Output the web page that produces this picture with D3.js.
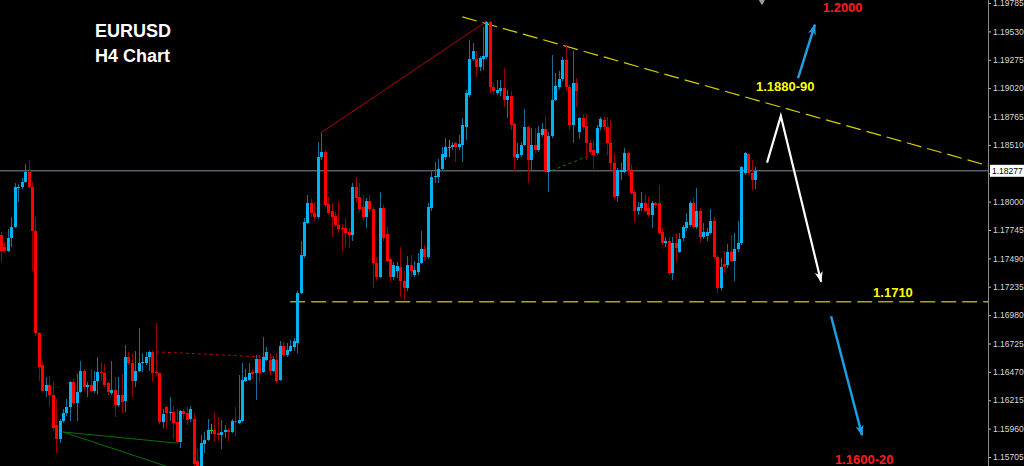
<!DOCTYPE html>
<html>
<head>
<meta charset="utf-8">
<script src="https://cdn.jsdelivr.net/npm/d3@7"></script>
<style>
  html, body { margin: 0; padding: 0; background: #000; }
  svg { display: block; }
</style>
</head>
<body>
<svg id="chart" width="1024" height="466"></svg>
<script>
// EURUSD H4 candles, [open, high, low, close], oldest first
const ohlc = [
  [1.1770,1.1773,1.1746,1.1756],[1.1759,1.1764,1.1754,1.1756],[1.1756,1.1775,1.1755,1.1767],[1.1767,1.1786,1.1759,1.1777],[1.1777,1.1817,1.1776,1.1813],
  [1.1812,1.1816,1.1800,1.1813],[1.1813,1.1821,1.1811,1.1818],[1.1818,1.1834,1.1817,1.1827],[1.1827,1.1837,1.1812,1.1813],[1.1813,1.1818,1.1738,1.1774],
  [1.1774,1.1786,1.1679,1.1682],[1.1682,1.1683,1.1639,1.1651],[1.1653,1.1657,1.1629,1.1630],[1.1630,1.1642,1.1624,1.1635],[1.1635,1.1643,1.1615,1.1626],
  [1.1626,1.1639,1.1594,1.1597],[1.1599,1.1623,1.1574,1.1587],[1.1587,1.1605,1.1583,1.1603],[1.1603,1.1614,1.1601,1.1610],[1.1610,1.1623,1.1607,1.1615],
  [1.1615,1.1639,1.1603,1.1638],[1.1638,1.1641,1.1617,1.1619],[1.1619,1.1645,1.1603,1.1629],[1.1629,1.1657,1.1628,1.1648],[1.1648,1.1650,1.1630,1.1633],
  [1.1633,1.1638,1.1624,1.1635],[1.1635,1.1650,1.1629,1.1630],[1.1630,1.1648,1.1628,1.1639],[1.1639,1.1660,1.1626,1.1647],[1.1647,1.1656,1.1639,1.1646],
  [1.1646,1.1654,1.1633,1.1635],[1.1637,1.1639,1.1626,1.1629],[1.1628,1.1657,1.1626,1.1631],[1.1631,1.1642,1.1606,1.1617],[1.1617,1.1642,1.1615,1.1626],
  [1.1626,1.1645,1.1610,1.1620],[1.1621,1.1671,1.1611,1.1660],[1.1660,1.1665,1.1653,1.1655],[1.1655,1.1663,1.1624,1.1639],[1.1639,1.1666,1.1633,1.1648],
  [1.1648,1.1686,1.1647,1.1655],[1.1655,1.1664,1.1647,1.1656],[1.1655,1.1665,1.1653,1.1660],[1.1660,1.1666,1.1648,1.1665],[1.1665,1.1667,1.1638,1.1646],
  [1.1647,1.1691,1.1643,1.1646],[1.1646,1.1647,1.1600,1.1602],[1.1602,1.1614,1.1597,1.1609],[1.1615,1.1616,1.1596,1.1610],[1.1610,1.1624,1.1603,1.1611],
  [1.1611,1.1616,1.1587,1.1601],[1.1602,1.1614,1.1582,1.1584],[1.1584,1.1613,1.1579,1.1612],[1.1612,1.1614,1.1605,1.1609],[1.1610,1.1615,1.1599,1.1604],
  [1.1605,1.1616,1.1602,1.1614],[1.1605,1.1610,1.1558,1.1564],[1.1567,1.1578,1.1557,1.1562],[1.1562,1.1590,1.1560,1.1583],[1.1582,1.1593,1.1574,1.1586],
  [1.1586,1.1605,1.1585,1.1595],[1.1595,1.1600,1.1591,1.1595],[1.1595,1.1611,1.1584,1.1591],[1.1592,1.1606,1.1585,1.1590],[1.1590,1.1604,1.1578,1.1593],
  [1.1593,1.1599,1.1588,1.1595],[1.1595,1.1597,1.1585,1.1593],[1.1593,1.1605,1.1592,1.1603],[1.1603,1.1615,1.1589,1.1602],[1.1601,1.1644,1.1600,1.1604],
  [1.1603,1.1655,1.1602,1.1640],[1.1639,1.1650,1.1638,1.1642],[1.1640,1.1655,1.1639,1.1646],[1.1647,1.1650,1.1641,1.1645],[1.1646,1.1662,1.1622,1.1659],
  [1.1659,1.1662,1.1638,1.1646],[1.1647,1.1678,1.1646,1.1660],[1.1658,1.1669,1.1657,1.1665],[1.1658,1.1664,1.1644,1.1648],[1.1648,1.1661,1.1647,1.1659],
  [1.1658,1.1664,1.1637,1.1639],[1.1640,1.1675,1.1639,1.1670],[1.1670,1.1674,1.1660,1.1662],[1.1662,1.1673,1.1660,1.1667],[1.1666,1.1676,1.1665,1.1670],
  [1.1669,1.1677,1.1666,1.1675],[1.1673,1.1720,1.1664,1.1718],[1.1718,1.1765,1.1717,1.1752],[1.1751,1.1785,1.1749,1.1782],[1.1781,1.1806,1.1780,1.1799],
  [1.1799,1.1802,1.1786,1.1790],[1.1790,1.1800,1.1783,1.1786],[1.1786,1.1854,1.1784,1.1840],[1.1840,1.1862,1.1837,1.1845],[1.1845,1.1846,1.1795,1.1797],
  [1.1798,1.1804,1.1788,1.1790],[1.1792,1.1799,1.1768,1.1786],[1.1787,1.1791,1.1777,1.1779],[1.1779,1.1800,1.1772,1.1775],[1.1776,1.1780,1.1755,1.1775],
  [1.1776,1.1785,1.1759,1.1772],[1.1773,1.1776,1.1758,1.1770],[1.1770,1.1817,1.1765,1.1813],[1.1813,1.1822,1.1800,1.1803],[1.1804,1.1817,1.1791,1.1793],
  [1.1795,1.1806,1.1783,1.1786],[1.1786,1.1803,1.1776,1.1801],[1.1801,1.1806,1.1791,1.1793],[1.1793,1.1795,1.1722,1.1745],[1.1745,1.1750,1.1730,1.1732],
  [1.1732,1.1809,1.1731,1.1794],[1.1794,1.1797,1.1765,1.1767],[1.1771,1.1777,1.1746,1.1747],[1.1748,1.1750,1.1729,1.1732],[1.1732,1.1746,1.1730,1.1743],
  [1.1738,1.1746,1.1731,1.1742],[1.1741,1.1759,1.1714,1.1729],[1.1729,1.1738,1.1712,1.1722],[1.1722,1.1751,1.1720,1.1743],[1.1743,1.1752,1.1732,1.1738],
  [1.1734,1.1747,1.1732,1.1739],[1.1737,1.1754,1.1734,1.1745],[1.1745,1.1774,1.1744,1.1757],[1.1757,1.1761,1.1747,1.1750],[1.1750,1.1799,1.1748,1.1795],
  [1.1794,1.1828,1.1792,1.1822],[1.1822,1.1836,1.1817,1.1823],[1.1822,1.1838,1.1817,1.1829],[1.1829,1.1849,1.1828,1.1843],[1.1840,1.1857,1.1837,1.1849],
  [1.1849,1.1855,1.1840,1.1849],[1.1849,1.1854,1.1846,1.1851],[1.1853,1.1854,1.1836,1.1849],[1.1849,1.1860,1.1846,1.1852],[1.1851,1.1875,1.1836,1.1869],
  [1.1867,1.1900,1.1855,1.1898],[1.1896,1.1945,1.1894,1.1928],[1.1928,1.1943,1.1926,1.1935],[1.1928,1.1935,1.1912,1.1921],[1.1921,1.1931,1.1917,1.1929],
  [1.1928,1.1957,1.1918,1.1931],[1.1930,1.1962,1.1928,1.1961],[1.1961,1.1962,1.1898,1.1903],[1.1903,1.1907,1.1896,1.1899],[1.1898,1.1909,1.1896,1.1900],
  [1.1899,1.1909,1.1895,1.1902],[1.1902,1.1920,1.1885,1.1891],[1.1891,1.1900,1.1875,1.1895],[1.1895,1.1899,1.1864,1.1869],[1.1870,1.1871,1.1827,1.1840],
  [1.1839,1.1853,1.1837,1.1843],[1.1842,1.1854,1.1840,1.1851],[1.1851,1.1883,1.1850,1.1867],[1.1867,1.1868,1.1817,1.1837],[1.1837,1.1866,1.1828,1.1851],
  [1.1851,1.1866,1.1844,1.1846],[1.1846,1.1868,1.1845,1.1862],[1.1860,1.1871,1.1858,1.1865],[1.1865,1.1877,1.1826,1.1827],[1.1827,1.1863,1.1809,1.1859],
  [1.1859,1.1932,1.1857,1.1891],[1.1891,1.1916,1.1890,1.1904],[1.1903,1.1917,1.1901,1.1910],[1.1910,1.1930,1.1908,1.1927],[1.1927,1.1941,1.1900,1.1903],
  [1.1903,1.1905,1.1864,1.1869],[1.1869,1.1935,1.1853,1.1907],[1.1907,1.1911,1.1885,1.1899],[1.1863,1.1876,1.1856,1.1875],[1.1875,1.1879,1.1864,1.1867],
  [1.1868,1.1879,1.1837,1.1853],[1.1853,1.1855,1.1843,1.1845],[1.1846,1.1855,1.1829,1.1842],[1.1844,1.1869,1.1842,1.1866],[1.1867,1.1876,1.1864,1.1874],
  [1.1873,1.1876,1.1864,1.1867],[1.1867,1.1876,1.1842,1.1853],[1.1853,1.1873,1.1828,1.1835],[1.1835,1.1844,1.1802,1.1804],[1.1805,1.1830,1.1800,1.1828],
  [1.1827,1.1835,1.1819,1.1828],[1.1827,1.1848,1.1826,1.1844],[1.1844,1.1845,1.1824,1.1828],[1.1828,1.1833,1.1806,1.1808],[1.1809,1.1810,1.1781,1.1792],
  [1.1792,1.1800,1.1788,1.1795],[1.1794,1.1809,1.1792,1.1799],[1.1799,1.1807,1.1791,1.1792],[1.1794,1.1804,1.1786,1.1788],[1.1788,1.1801,1.1776,1.1799],
  [1.1799,1.1800,1.1794,1.1797],[1.1799,1.1815,1.1771,1.1772],[1.1773,1.1777,1.1761,1.1763],[1.1763,1.1768,1.1759,1.1765],[1.1765,1.1768,1.1734,1.1736],
  [1.1736,1.1768,1.1730,1.1763],[1.1763,1.1772,1.1746,1.1758],[1.1755,1.1772,1.1754,1.1766],[1.1767,1.1779,1.1765,1.1777],[1.1776,1.1790,1.1774,1.1782],
  [1.1779,1.1801,1.1777,1.1799],[1.1799,1.1803,1.1775,1.1777],[1.1777,1.1812,1.1775,1.1792],[1.1792,1.1794,1.1764,1.1768],[1.1768,1.1781,1.1766,1.1773],
  [1.1769,1.1776,1.1765,1.1773],[1.1772,1.1793,1.1771,1.1783],[1.1783,1.1786,1.1748,1.1750],[1.1750,1.1752,1.1718,1.1722],[1.1722,1.1749,1.1720,1.1741],
  [1.1744,1.1756,1.1736,1.1741],[1.1743,1.1762,1.1740,1.1755],[1.1755,1.1770,1.1746,1.1747],[1.1747,1.1772,1.1729,1.1757],[1.1757,1.1783,1.1755,1.1763],
  [1.1763,1.1832,1.1761,1.1831],[1.1826,1.1845,1.1824,1.1844],[1.1843,1.1844,1.1824,1.1826],[1.1826,1.1837,1.1810,1.1819],[1.1819,1.1831,1.1811,1.18277]
];

const priceTicks = [1.19785,1.19530,1.19275,1.19020,1.18765,1.18510,1.18255,1.18000,1.17745,
                    1.17490,1.17235,1.16980,1.16725,1.16470,1.16215,1.15960,1.15705];
const lastPrice = 1.18277;

// drawn objects, as [bar index, price]
const supportLevel = [[84, 1.1710], [300, 1.1710]];
const resistanceLine = [[134, 1.1966], [287, 1.1832]];
const peakLine = [[93, 1.1862], [141, 1.1962]];
const redDotted = [[45, 1.1665], [79, 1.1660]];
const greenLines = [
  [[18, 1.1593], [51, 1.1583]],
  [[18, 1.1593], [55, 1.1555]]
];
const greenDotted = [[160, 1.1828], [173, 1.1844]];
const whitePath = [[222.5, 1.1835], [226.5, 1.1877], [238.2, 1.1728]];
const blueUp = [[231.5, 1.1911], [236.4, 1.1959]];
const blueDown = [[241.1, 1.1697], [250.1, 1.1590]];
const noteText = ["1.2000", "1.1880-90", "1.1710", "1.1600-20"];
const noteAt = [[238.7, 1.1970], [219.3, 1.1899], [253.3, 1.1714], [242.2, 1.1564]];
const noteColor = ["#ff1a1a", "#ffff00", "#ffff00", "#ff1a1a"];

const W = 1024, H = 466, axisX = 988;
const svg = d3.select("#chart");

svg.append("rect").attr("width", W).attr("height", H).attr("fill", "#000");

const x = d3.scaleLinear().domain([0, ohlc.length - 1]).range([1, 755]);
const y = d3.scaleLinear()
  .domain([priceTicks[priceTicks.length - 1], priceTicks[0]])
  .range([457, 3]);

svg.append("clipPath").attr("id", "plot")
  .append("rect").attr("width", axisX).attr("height", H);

const defs = svg.append("defs");
function arrowMarker(id, color) {
  defs.append("marker")
    .attr("id", id)
    .attr("viewBox", "0 -5 12 10")
    .attr("refX", 10).attr("refY", 0)
    .attr("markerUnits", "userSpaceOnUse")
    .attr("markerWidth", 12).attr("markerHeight", 10)
    .attr("orient", "auto")
    .append("path")
    .attr("d", "M0,-4L11,0L0,4L3,0Z")
    .attr("fill", color);
}
arrowMarker("headBlue", "#1e9ee0");
arrowMarker("headWhite", "#ffffff");

const plot = svg.append("g").attr("clip-path", "url(#plot)");
const line = d3.line().x(d => x(d[0])).y(d => y(d[1]));

// current price line
plot.append("line")
  .attr("x1", 0).attr("x2", axisX)
  .attr("y1", y(lastPrice)).attr("y2", y(lastPrice))
  .attr("stroke", "#565e67").attr("stroke-width", 1.5);

// objects behind the candles
plot.append("path").attr("d", line(supportLevel))
  .attr("fill", "none").attr("stroke", "#a8a51c").attr("stroke-width", 1.5)
  .attr("stroke-dasharray", "15,6");
plot.append("path").attr("d", line(resistanceLine))
  .attr("fill", "none").attr("stroke", "#d8d000").attr("stroke-width", 1.2)
  .attr("stroke-dasharray", "15,6");
plot.append("path").attr("d", line(peakLine))
  .attr("fill", "none").attr("stroke", "#b30000").attr("stroke-width", 1);
plot.append("path").attr("d", line(redDotted))
  .attr("fill", "none").attr("stroke", "#c00000").attr("stroke-width", 1)
  .attr("stroke-dasharray", "3,3");
greenLines.forEach(g => {
  plot.append("path").attr("d", line(g))
    .attr("fill", "none").attr("stroke", "#0b6e0b").attr("stroke-width", 1);
});
plot.append("path").attr("d", line(greenDotted))
  .attr("fill", "none").attr("stroke", "#0b7a0b").attr("stroke-width", 1)
  .attr("stroke-dasharray", "3,3");

// candles
const candles = plot.append("g").attr("shape-rendering", "crispEdges");
ohlc.forEach((d, i) => {
  const [o, h, l, c] = d;
  const cx = Math.round(x(i));
  const up = c > o, doji = c === o;
  const wick = doji ? "#00d000" : up ? "#1b6f96" : "#9a0000";
  const body = doji ? "#00e000" : up ? "#00b2f0" : "#ff0000";
  candles.append("rect")
    .attr("x", cx).attr("width", 1)
    .attr("y", y(h)).attr("height", Math.max(1, y(l) - y(h)))
    .attr("fill", wick);
  const top = y(Math.max(o, c)), bot = y(Math.min(o, c));
  candles.append("rect")
    .attr("x", cx - 1).attr("width", 3)
    .attr("y", top).attr("height", Math.max(1, bot - top))
    .attr("fill", body);
});

// arrows
plot.append("path").attr("d", line(whitePath))
  .attr("fill", "none").attr("stroke", "#ffffff").attr("stroke-width", 2.2)
  .attr("stroke-linejoin", "miter").attr("marker-end", "url(#headWhite)");
[blueUp, blueDown].forEach(a => {
  plot.append("path").attr("d", line(a))
    .attr("fill", "none").attr("stroke", "#1e9ee0").attr("stroke-width", 2.5)
    .attr("marker-end", "url(#headBlue)");
});

// small object marker at the top edge
plot.append("path")
  .attr("d", d3.symbol(d3.symbolDiamond, 30)())
  .attr("transform", `translate(${x(221)},${y(1.1981)})`)
  .attr("fill", "#9a9a9a");

// price notes
noteText.forEach((t, i) => {
  plot.append("text")
    .attr("x", x(noteAt[i][0])).attr("y", y(noteAt[i][1]))
    .attr("fill", noteColor[i])
    .attr("font-family", "'Liberation Sans', Arial, sans-serif")
    .attr("font-weight", "bold").attr("font-size", 13)
    .text(t);
});

// title
const title = svg.append("g")
  .attr("font-family", "'Liberation Sans', Arial, sans-serif")
  .attr("font-weight", "bold").attr("font-size", 18).attr("fill", "#ffffff");
title.append("text").attr("x", 95).attr("y", 37).text("EURUSD");
title.append("text").attr("x", 95).attr("y", 62).text("H4 Chart");

// price axis
const tagY = y(lastPrice);
const axis = svg.append("g")
  .attr("transform", `translate(${axisX},0)`)
  .call(d3.axisRight(y).tickValues(priceTicks).tickFormat(d3.format(".5f"))
    .tickSize(3).tickSizeOuter(0).tickPadding(2));
axis.select(".domain").remove();
axis.selectAll(".tick line").attr("stroke", "#bfbfbf");
axis.selectAll(".tick text")
  .attr("fill", "#d8d8d8")
  .attr("font-family", "'Liberation Sans', Arial, sans-serif")
  .attr("font-size", 8.5);
// the label hidden behind the last price tag
axis.selectAll(".tick").filter(d => Math.abs(y(d) - tagY) < 10).select("text").remove();
svg.append("line")
  .attr("x1", axisX + 0.5).attr("x2", axisX + 0.5)
  .attr("y1", 0).attr("y2", H)
  .attr("stroke", "#8a8a8a").attr("stroke-width", 1);

// last price tag
svg.append("rect")
  .attr("x", axisX + 2).attr("y", tagY - 6)
  .attr("width", 34).attr("height", 12)
  .attr("fill", "#ffffff");
svg.append("text")
  .attr("x", axisX + 4).attr("y", tagY + 3.5)
  .attr("fill", "#000")
  .attr("font-family", "'Liberation Sans', Arial, sans-serif")
  .attr("font-size", 8.5)
  .text(d3.format(".5f")(lastPrice));
</script>
</body>
</html>
